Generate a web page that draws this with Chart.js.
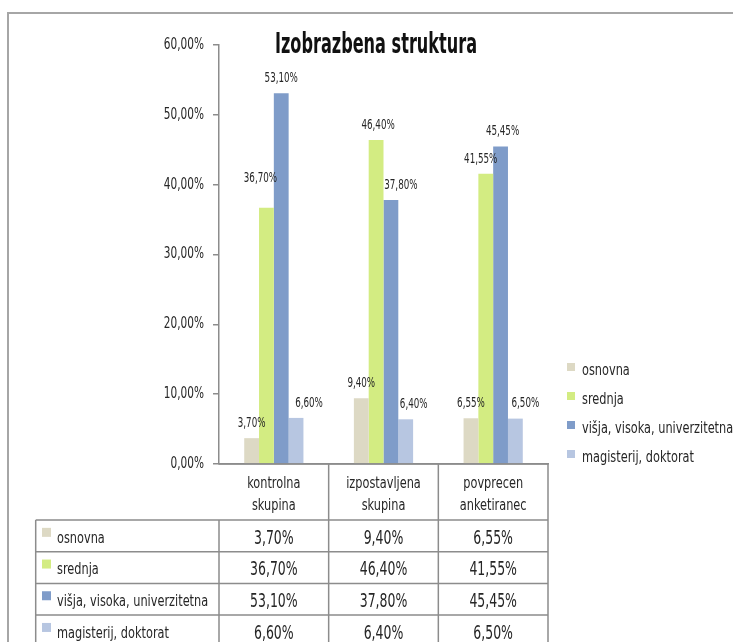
<!DOCTYPE html>
<html>
<head>
<meta charset="utf-8">
<script src="https://cdn.jsdelivr.net/npm/chart.js@4.4.1/dist/chart.umd.min.js"></script>
<style>
  html, body { margin: 0; padding: 0; background: #fff; }
  #wrap { width: 733px; height: 642px; position: relative; }
</style>
</head>
<body>
<div id="wrap"><canvas id="eduChart" width="733" height="642"></canvas></div>
<script>
var categories = [['kontrolna', 'skupina'], ['izpostavljena', 'skupina'], ['povprecen', 'anketiranec']];
var seriesNames = ['osnovna', 'srednja', 'višja, visoka, univerzitetna', 'magisterij, doktorat'];
var osnovna = [3.70, 9.40, 6.55];
var srednja = [36.70, 46.40, 41.55];
var visja = [53.10, 37.80, 45.45];
var magisterij = [6.60, 6.40, 6.50];
var seriesColors = ['#ddd9c4', '#d3ec82', '#7f9cc9', '#b7c6e1'];
var yMax = 60;
var yStep = 10;

var FONT = '"Liberation Sans Narrow", "DejaVu Sans Condensed", "Arial Narrow", sans-serif';
var TEXT = '#262626';
var LINE = '#8c8c8c';

function pct(v) {
    return v.toFixed(2).replace('.', ',') + '%';
}

// draw text squeezed horizontally so it reads like a narrow face
function narrowText(ctx, text, x, y, sx) {
    ctx.save();
    ctx.translate(x, y);
    ctx.scale(sx, 1);
    ctx.fillText(text, 0, 0);
    ctx.restore();
}

// some value labels sit a little off their bar so they don't collide
var labelNudge = {
    '1-0': [-6, -14], '3-0': [13, 0],
    '1-1': [2, 0], '2-1': [10, 0], '3-1': [8, 0],
    '1-2': [-5, 0], '2-2': [2, 0], '3-2': [10, 0]
};

var tablePlugin = {
    id: 'eduTable',
    afterDraw: function (chart) {
        var ctx = chart.ctx;
        var area = chart.chartArea;
        var xs = chart.scales.x;
        var ys = chart.scales.y;
        var half = (xs.getPixelForValue(1) - xs.getPixelForValue(0)) / 2;
        var colEdges = [area.left];
        categories.forEach(function (c, i) { colEdges.push(xs.getPixelForValue(i) + half); });
        var tableTop = xs.bottom;
        var rowH = 31.7;
        var tableLeft = 35.7;

        ctx.save();

        // outer frame
        ctx.strokeStyle = '#a6a6a6';
        ctx.lineWidth = 2;
        ctx.beginPath();
        ctx.moveTo(8, 660);
        ctx.lineTo(8, 13);
        ctx.lineTo(740, 13);
        ctx.stroke();

        // title
        ctx.fillStyle = '#111';
        ctx.font = 'bold 28px ' + FONT;
        ctx.textAlign = 'center';
        ctx.textBaseline = 'middle';
        narrowText(ctx, 'Izobrazbena struktura', 376, 46, 0.64);

        // y tick labels, placed by the scale
        ctx.fillStyle = TEXT;
        ctx.font = '15px ' + FONT;
        ctx.textAlign = 'right';
        ys.ticks.forEach(function (t) {
            narrowText(ctx, pct(t.value), ys.right - 15, ys.getPixelForValue(t.value), 0.78);
        });

        // category labels under the axis
        ctx.textAlign = 'center';
        categories.forEach(function (lines, i) {
            lines.forEach(function (line, k) {
                narrowText(ctx, line, xs.getPixelForValue(i), xs.top + 20 + k * 22, 0.84);
            });
        });

        // value labels above bars
        ctx.font = '14.5px ' + FONT;
        chart.data.datasets.forEach(function (ds, di) {
            chart.getDatasetMeta(di).data.forEach(function (bar, i) {
                var n = labelNudge[di + '-' + i] || [0, 0];
                narrowText(ctx, pct(ds.data[i]), bar.x + n[0], bar.y - 15 + n[1], 0.67);
            });
        });

        // data table grid
        ctx.strokeStyle = LINE;
        ctx.lineWidth = 1.5;
        ctx.beginPath();
        colEdges.forEach(function (x) {
            ctx.moveTo(x, tableTop - (x === area.left ? 0 : xs.height));
            ctx.lineTo(x, 660);
        });
        ctx.moveTo(area.left, tableTop - xs.height);
        ctx.lineTo(area.right, tableTop - xs.height);
        for (var r = 0; r <= seriesNames.length; r++) {
            ctx.moveTo(tableLeft, tableTop + r * rowH);
            ctx.lineTo(area.right, tableTop + r * rowH);
        }
        ctx.moveTo(tableLeft, tableTop);
        ctx.lineTo(tableLeft, 660);
        ctx.stroke();

        // table rows: legend key + values
        chart.data.datasets.forEach(function (ds, di) {
            var cy = tableTop + di * rowH + rowH / 2 + 3;
            ctx.fillStyle = ds.backgroundColor;
            ctx.fillRect(42, cy - 11, 9, 9);
            ctx.fillStyle = TEXT;
            ctx.font = '15px ' + FONT;
            ctx.textAlign = 'left';
            narrowText(ctx, ds.label, 57, cy, 0.84);
            ctx.font = '19px ' + FONT;
            ctx.textAlign = 'center';
            ds.data.forEach(function (v, i) {
                narrowText(ctx, pct(v), xs.getPixelForValue(i), cy, 0.73);
            });
        });

        // legend on the right
        var legendTop = 371;
        var legendGap = 29;
        ctx.font = '15px ' + FONT;
        ctx.textAlign = 'left';
        chart.data.datasets.forEach(function (ds, di) {
            var cy = legendTop + di * legendGap;
            ctx.fillStyle = ds.backgroundColor;
            ctx.fillRect(567, cy - 8, 8, 8);
            ctx.fillStyle = TEXT;
            narrowText(ctx, ds.label, 582, cy, 0.84);
        });

        ctx.restore();
    }
};

var seriesValues = [osnovna, srednja, visja, magisterij];

new Chart(document.getElementById('eduChart'), {
    type: 'bar',
    data: {
        labels: categories,
        datasets: seriesNames.map(function (name, i) {
            return {
                label: name,
                data: seriesValues[i],
                backgroundColor: seriesColors[i],
                borderWidth: 0,
                barPercentage: 1,
                categoryPercentage: 0.54
            };
        })
    },
    options: {
        responsive: false,
        animation: false,
        devicePixelRatio: 1,
        layout: { padding: { left: 0, top: 45, right: 185, bottom: 122 } },
        plugins: {
            legend: { display: false },
            tooltip: { enabled: false }
        },
        scales: {
            x: {
                afterFit: function (scale) { scale.height = 56; },
                grid: { display: false, drawTicks: false },
                border: { display: true, color: LINE, width: 1.5 },
                ticks: { display: false }
            },
            y: {
                min: 0,
                max: yMax,
                afterFit: function (scale) { scale.width = 219; },
                grid: { drawOnChartArea: false, tickLength: 6, color: LINE, lineWidth: 1.5 },
                border: { color: LINE, width: 1.5 },
                ticks: {
                    stepSize: yStep,
                    display: false
                }
            }
        }
    },
    plugins: [tablePlugin]
});
</script>
</body>
</html>
